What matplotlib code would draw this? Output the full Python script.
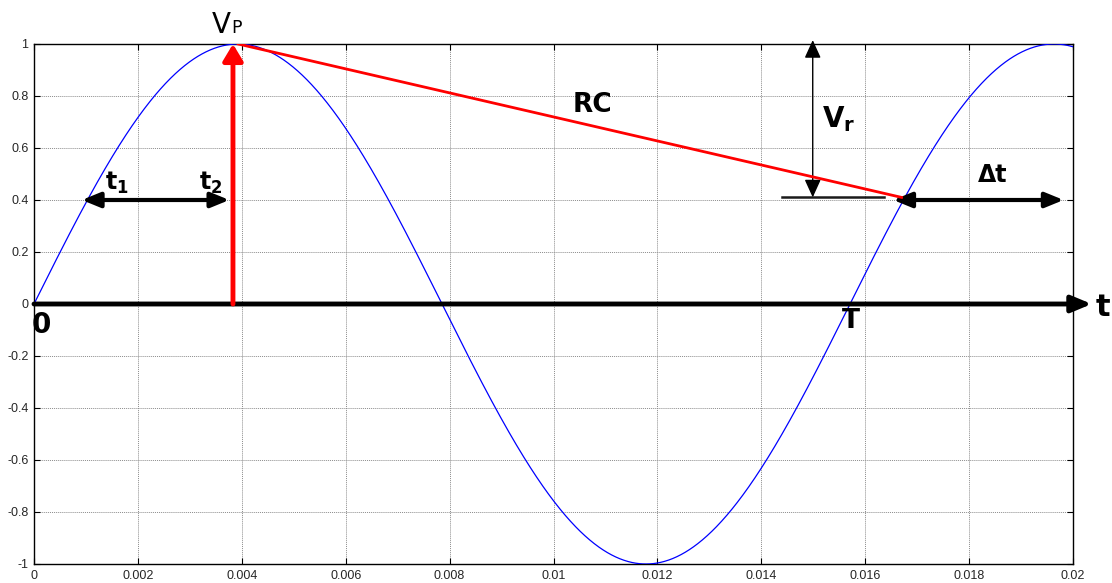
import numpy as np
import matplotlib
matplotlib.use("Agg")
import matplotlib.pyplot as plt

# ---- values ----
t_max = 0.02
omega = 400.0            # rad/s (zero crossing at T ~ 0.0157)
amplitude = 1.0
x_ticks = [0, 0.002, 0.004, 0.006, 0.008, 0.01, 0.012, 0.014, 0.016, 0.018, 0.02]
x_tick_labels = ["0", "0.002", "0.004", "0.006", "0.008", "0.01", "0.012", "0.014", "0.016", "0.018", "0.02"]
y_ticks = [-1, -0.8, -0.6, -0.4, -0.2, 0, 0.2, 0.4, 0.6, 0.8, 1]
y_tick_labels = ["-1", "-0.8", "-0.6", "-0.4", "-0.2", "0", "0.2", "0.4", "0.6", "0.8", "1"]

peak_t = 0.00383          # red vertical arrow
peak_v = 1.0
rc_end_t = 0.01670        # end of RC discharge line
rc_end_v = 0.41
t1_t, t2_t, t12_v = 0.00092, 0.00376, 0.40
dt_start, dt_end, dt_v = 0.01654, 0.01982, 0.40
vr_t, vr_top, vr_bot = 0.01499, 1.015, 0.41
ref_line_t0, ref_line_t1, ref_line_v = 0.01440, 0.01636, 0.41
axis_arrow_end = 0.02036

t = np.linspace(0, t_max, 2000)
v = amplitude * np.sin(omega * t)

fig = plt.figure(figsize=(11.12, 5.83), dpi=100)
ax = fig.add_axes([34/1112, 19/583, 1039/1112, 520/583])

ax.plot(t, v, color="#0000ff", lw=0.9, zorder=3)
ax.set_xlim(0, t_max)
ax.set_ylim(-1, 1)
ax.set_xticks(x_ticks)
ax.set_xticklabels(x_tick_labels)
ax.set_yticks(y_ticks)
ax.set_yticklabels(y_tick_labels)
ax.tick_params(direction="in", top=True, right=True, length=4, width=0.8,
               labelsize=9, pad=4, labelcolor="#262626")
ax.grid(True, color="#8c8c8c", linestyle=(0, (1, 1)), linewidth=0.7)
for s in ax.spines.values():
    s.set_linewidth(1.0)
for lab in ax.get_xticklabels() + ax.get_yticklabels():
    lab.set_family("Liberation Sans")

# horizontal time axis arrow
ax.annotate("", xy=(axis_arrow_end, 0), xytext=(0, 0),
            arrowprops=dict(arrowstyle="-|>,head_length=1.2,head_width=0.5",
                            lw=3.5, color="black", shrinkA=0, shrinkB=0),
            annotation_clip=False, zorder=5)

# red vertical arrow to Vp
ax.annotate("", xy=(peak_t, peak_v), xytext=(peak_t, 0),
            arrowprops=dict(arrowstyle="-|>,head_length=1.0,head_width=0.6",
                            lw=3.5, color="#ff0000", shrinkA=0, shrinkB=0),
            annotation_clip=False, zorder=6)
# RC discharge line
ax.plot([peak_t + 0.0001, rc_end_t], [peak_v, rc_end_v], color="#ff0000", lw=2.0, zorder=6)

# reference horizontal line
ax.plot([ref_line_t0, ref_line_t1], [ref_line_v, ref_line_v], color="#1a1a1a", lw=1.8, zorder=4)

# t1 - t2 double arrow
ax.annotate("", xy=(t2_t, t12_v), xytext=(t1_t, t12_v),
            arrowprops=dict(arrowstyle="<|-|>,head_length=1.1,head_width=0.45",
                            lw=3.0, color="black", shrinkA=0, shrinkB=0), zorder=5)
# delta t double arrow
ax.annotate("", xy=(dt_end, dt_v), xytext=(dt_start, dt_v),
            arrowprops=dict(arrowstyle="<|-|>,head_length=1.1,head_width=0.45",
                            lw=3.0, color="black", shrinkA=0, shrinkB=0), zorder=5)
# Vr double arrow
ax.annotate("", xy=(vr_t, vr_bot), xytext=(vr_t, vr_top),
            arrowprops=dict(arrowstyle="<|-|>,head_length=1.1,head_width=0.5",
                            lw=1.0, color="black", shrinkA=0, shrinkB=0),
            annotation_clip=False, zorder=5)

bold = dict(fontweight="bold", family="DejaVu Sans", color="black")
# V_P label: large V with small P on the same baseline
ax.text(0.00378, 1.042, "V", fontsize=20, ha="right", va="baseline",
        family="DejaVu Sans", clip_on=False)
ax.text(0.00380, 1.042, "P", fontsize=12.5, ha="left", va="baseline",
        family="DejaVu Sans", clip_on=False)
ax.text(0.00160, 0.465, r"t$_\mathbf{1}$", fontsize=17, ha="center", va="center", **bold)
ax.text(0.00340, 0.465, r"t$_\mathbf{2}$", fontsize=17, ha="center", va="center", **bold)
ax.text(0.01074, 0.765, "RC", fontsize=19, ha="center", va="center", **bold)
ax.text(0.01548, 0.71, r"V$_\mathbf{r}$", fontsize=20, ha="center", va="center", **bold)
ax.text(0.01846, 0.495, "Δt", fontsize=17, ha="center", va="center", **bold)
ax.text(0.00015, -0.08, "0", fontsize=20, ha="center", va="center", **bold)
ax.text(0.01573, -0.065, "T", fontsize=19, ha="center", va="center", **bold)
ax.text(0.02057, -0.015, "t", fontsize=22, ha="center", va="center", clip_on=False, **bold)

fig.savefig("out.png", dpi=100)
